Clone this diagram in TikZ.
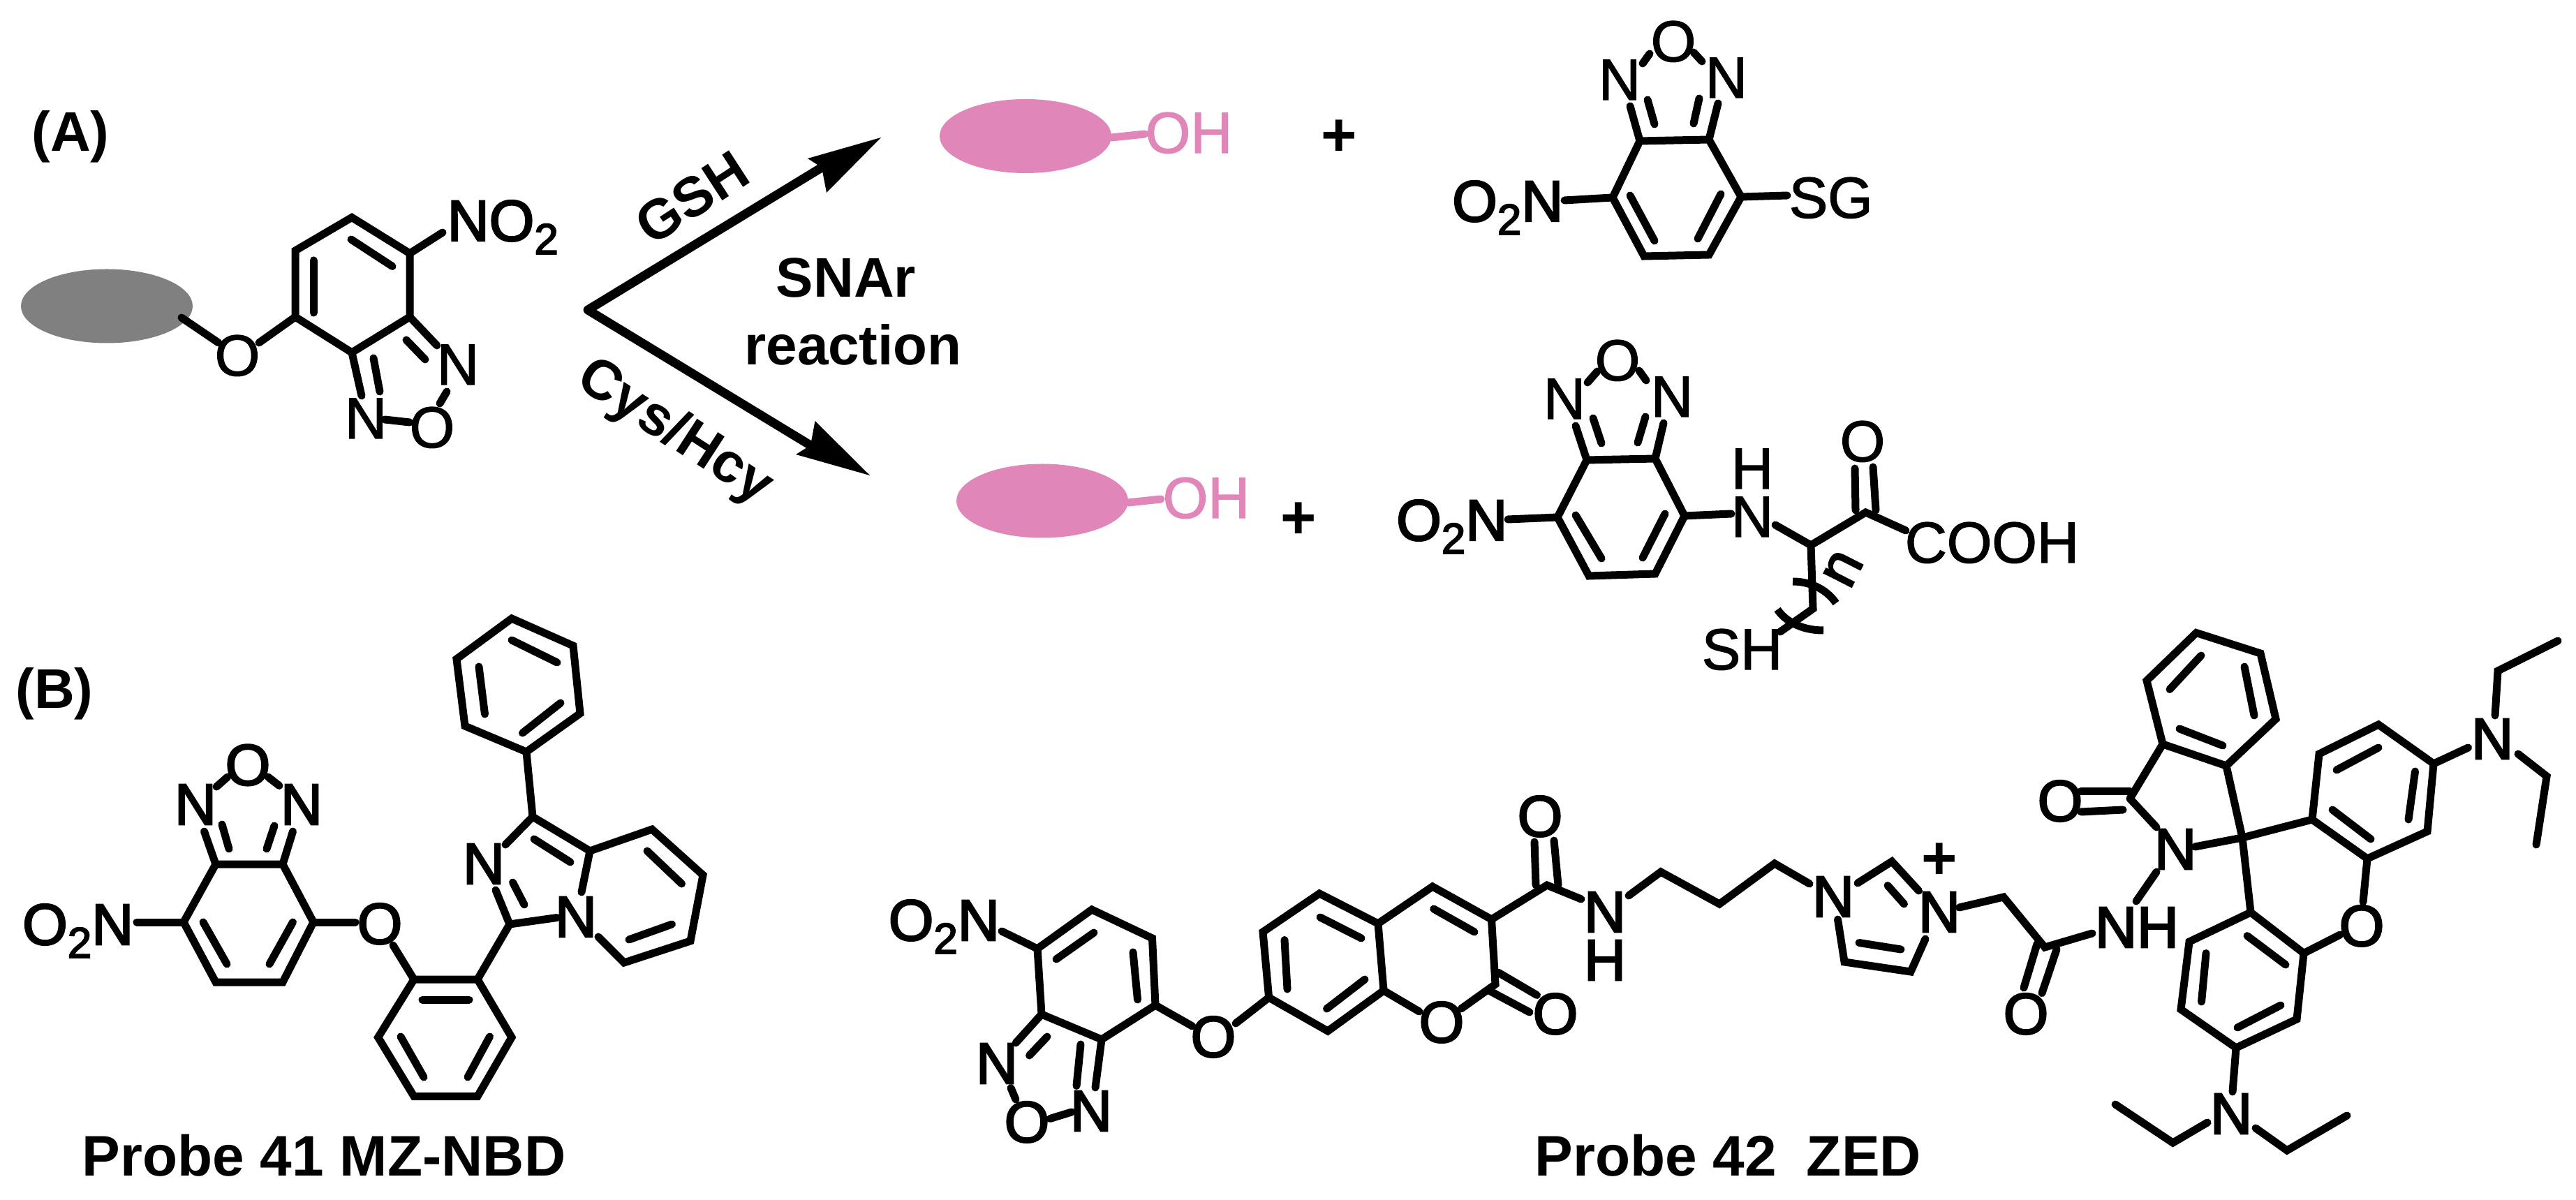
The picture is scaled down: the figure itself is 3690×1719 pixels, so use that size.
\documentclass[tikz,border=0pt]{standalone}
\usepackage{fontspec}
\setmainfont{Liberation Sans}
\newfontfamily\atomfont[FakeBold=1.6]{Liberation Sans}
\newfontfamily\heavyfont[FakeBold=3]{Liberation Sans}
\newfontfamily\boldfont{Liberation Sans Bold}
\definecolor{probepink}{HTML}{E186B9}
\definecolor{probegray}{HTML}{808080}
\newcommand{\subtwo}{\raisebox{-4.75pt}{\fontsize{15.5pt}{15.5pt}\selectfont 2}}
\tikzset{
  bond/.style={line width=2.75pt,line cap=round,line join=miter},
  pinkbond/.style={bond,color=probepink},
  shaft/.style={line width=3.2pt,line join=round},
  atomtext/.style={inner sep=0pt,anchor=base,font=\atomfont\fontsize{20.75pt}{20.75pt}\selectfont},
  heavytext/.style={atomtext,font=\heavyfont\fontsize{20.75pt}{20.75pt}\selectfont},
  atomleft/.style={atomtext,anchor=base west},
  pinktext/.style={atomtext,text=probepink},
  labeltext/.style={inner sep=0pt,anchor=base,font=\boldfont\fontsize{20pt}{20pt}\selectfont},
  plustext/.style={labeltext,anchor=center,font=\boldfont\fontsize{22pt}{22pt}\selectfont},
  titletext/.style={labeltext,font=\boldfont\fontsize{20.5pt}{20.5pt}\selectfont}
}
\begin{document}
\begin{tikzpicture}[x=0.25pt,y=-0.25pt]
\useasboundingbox (0,0) rectangle (3690,1719);
% ---------- panel labels
\node[labeltext] (labA) at (101,217) {(A)};
\node[labeltext] (labB) at (78,1015) {(B)};
% ---------- substrate
\fill[probegray] (153,438.5) ellipse [x radius=123,y radius=53];
\draw[bond] (504,311.5) -- (587,363) -- (587,454) -- (504,505) -- (423,454) -- (423,359) -- cycle;
\draw[bond] (503,343) -- (562,381.5);
\draw[bond] (449,373) -- (449,448);
\draw[bond] (587,363) -- (634,333);
\draw[bond] (587,454) -- (626,495);
\draw[bond] (582,487) -- (609,515);
\draw[bond] (504,505) -- (518,567);
\draw[bond] (535,513) -- (544,561);
\draw[bond] (551,601) -- (587,605);
\draw[bond] (640,561) -- (630,578);
\draw[bond] (423,454) -- (371,491);
\draw[bond] (313,491) -- (260,455);
\node[atomtext] (sO) at (340,538) {O};
\node[atomtext] (sNa) at (656,551) {N};
\node[atomtext] (sNb) at (524,628) {N};
\node[atomtext] (sOb) at (619,641) {O};
\node[heavytext,anchor=base west] (sNO) at (640,345) {NO\subtwo};
% ---------- reaction arrows
\coordinate (root) at (842,444);
\coordinate (upnotch) at (1177,240);
\coordinate (downnotch) at (1161,638);
\draw[shaft] (upnotch) -- (root) -- (downnotch);
\fill (1262,197) -- (1157,227) -- (upnotch) -- (1184,276) -- cycle;
\fill (1246,681) -- (1167.5,603) -- (downnotch) -- (1140,651) -- cycle;
\node[labeltext,anchor=center,rotate=33] (gsh) at (991,283) {GSH};
\node[labeltext,anchor=center,rotate=-33] (cys) at (966,620) {Cys/Hcy};
\node[labeltext] (snar) at (1212,426) {SNAr};
\node[labeltext] (reac) at (1222,523) {reaction};
% ---------- pink product 1
\fill[probepink] (1469,195) ellipse [x radius=123,y radius=53];
\draw[pinkbond] (1592,197) -- (1640,192);
\node[pinktext,anchor=base west] (oh1) at (1640,219) {OH};
\node[plustext] (plus1) at (1918,198) {+};
% ---------- SG product
\draw[bond] (2349,202) -- (2448,200) -- (2494,282) -- (2448,365) -- (2355,367) -- (2310,283) -- cycle;
\draw[bond] (2335,280) -- (2370,345);
\draw[bond] (2465,278) -- (2432,342);
\draw[bond] (2349,202) -- (2335,152);
\draw[bond] (2370,178) -- (2360,143);
\draw[bond] (2448,200) -- (2461,148);
\draw[bond] (2426,177) -- (2434,141);
\draw[bond] (2353,91) -- (2363,77);
\draw[bond] (2438,88) -- (2426,75);
\draw[bond] (2241,287) -- (2310,283);
\draw[bond] (2494,282) -- (2560,280);
\node[atomtext] (gNa) at (2320,143) {N};
\node[atomtext] (gNb) at (2473,140) {N};
\node[atomtext] (gO) at (2397,88) {O};
\node[heavytext,anchor=base east] (gNO) at (2240,317) {O\subtwo N};
\node[atomleft] (gSG) at (2562,312) {SG};
% ---------- pink product 2
\fill[probepink] (1493,717.5) ellipse [x radius=123,y radius=53];
\draw[pinkbond] (1616,720) -- (1663,715);
\node[pinktext,anchor=base west] (oh2) at (1665,742) {OH};
\node[plustext] (plus2) at (1860,746) {+};
% ---------- Cys product
\draw[bond] (2273,659) -- (2371,657) -- (2413,739) -- (2371,822) -- (2276,825) -- (2231,741) -- cycle;
\draw[bond] (2257,738) -- (2294,800);
\draw[bond] (2385,736) -- (2353,799);
\draw[bond] (2273,659) -- (2257,610);
\draw[bond] (2294,635) -- (2282,599);
\draw[bond] (2371,657) -- (2383,606);
\draw[bond] (2346,634) -- (2357,597);
\draw[bond] (2274,548) -- (2288,532);
\draw[bond] (2358,545) -- (2348,531);
\draw[bond] (2160,744) -- (2231,741);
\draw[bond] (2413,739) -- (2480,736);
\draw[bond] (2543,752) -- (2594,781) -- (2672.5,734) -- (2730,760);
\draw[bond] (2658,731) -- (2657,671);
\draw[bond] (2687,731) -- (2683,669);
\draw[bond] (2594,781) -- (2597,872) -- (2550,905);
\draw[bond,line cap=butt] (2568,833) .. controls (2590,833) and (2615,842) .. (2630,864);
\draw[bond,line cap=butt] (2546,873) .. controls (2556,888) and (2578,903) .. (2612,903);
\node[atomtext] (cNa) at (2241,600) {N};
\node[atomtext] (cNb) at (2395,597) {N};
\node[atomtext] (cO) at (2317,545) {O};
\node[heavytext,anchor=base east] (cNO) at (2160,774) {O\subtwo N};
\node[atomtext] (cH) at (2510,700) {H};
\node[atomtext] (cN) at (2510,769) {N};
\node[atomtext] (cOb) at (2668,661) {O};
\node[atomleft] (cCOOH) at (2728,806) {COOH};
\node[heavytext,anchor=center,rotate=63] (cn) at (2640,815) {n};
\node[atomleft] (cSH) at (2437,959) {SH};
% ---------- Probe 41
\draw[bond] (309,1238) -- (405,1238) -- (449,1321) -- (405,1407) -- (309,1407) -- (263,1321) -- cycle;
\draw[bond] (291,1321) -- (325,1381);
\draw[bond] (419.5,1321) -- (386,1381);
\draw[bond] (309,1238) -- (292.5,1191);
\draw[bond] (328,1216) -- (318,1181);
\draw[bond] (405,1238) -- (419.5,1191);
\draw[bond] (382,1216) -- (393,1183);
\draw[bond] (326,1113) -- (310,1127);
\draw[bond] (384,1113) -- (400,1125.5);
\draw[bond] (196,1321) -- (263,1321);
\draw[bond] (449,1321) -- (509,1321);
\draw[bond] (563,1354) -- (593,1403);
\draw[bond] (593,1403) -- (684,1403) -- (733,1486) -- (684,1570.6) -- (593,1570.6) -- (541.6,1486) -- cycle;
\draw[bond] (605,1432) -- (672,1432);
\draw[bond] (574,1485) -- (607,1543);
\draw[bond] (701.5,1485) -- (670,1543);
\draw[bond] (684,1403) -- (730,1324);
\draw[bond] (730,1324) -- (710,1275);
\draw[bond] (751,1296) -- (734.5,1264);
\draw[bond] (724,1210) -- (763,1170) -- (845,1219) -- (833,1278);
\draw[bond] (765,1202) -- (817,1235);
\draw[bond] (730,1324) -- (798,1314.5);
\draw[bond] (845,1219) -- (934,1188) -- (1007,1253.5) -- (989,1348) -- (894,1379) -- (857,1342);
\draw[bond] (927,1219) -- (976.5,1266);
\draw[bond] (901,1346) -- (962.5,1324);
\draw[bond] (763,1170) -- (754,1077);
\draw[bond] (754,1077) -- (831,1022) -- (821,925) -- (733,886) -- (654,944) -- (666,1040) -- cycle;
\draw[bond] (733,917) -- (798,949);
\draw[bond] (686,955) -- (694.5,1023);
\draw[bond] (748.5,1050) -- (803,1007);
\node[heavytext] (aNa) at (280,1181) {N};
\node[heavytext] (aNb) at (432,1181) {N};
\node[heavytext] (aO) at (355,1124.5) {O};
\node[heavytext,anchor=base east] (aNO) at (192,1353) {O\subtwo N};
\node[heavytext] (aOb) at (544,1352) {O};
\node[heavytext] (aNc) at (693,1266) {N};
\node[heavytext] (aNd) at (825,1342) {N};
\node[titletext,anchor=base west] (t41) at (117,1684) {Probe 41 MZ-NBD};
% ---------- Probe 42: NBD + coumarin
\draw[bond] (1564,1303) -- (1650.5,1344) -- (1655,1440) -- (1578,1489) -- (1492,1453) -- (1486,1359) -- cycle;
\draw[bond] (1567,1336) -- (1513,1374);
\draw[bond] (1623,1364) -- (1629.5,1432);
\draw[bond] (1486,1359) -- (1435,1334);
\draw[bond] (1492,1453) -- (1455,1494);
\draw[bond] (1500,1485) -- (1474.5,1512);
\draw[bond] (1578,1489) -- (1569,1558);
\draw[bond] (1548,1496) -- (1542,1555.5);
\draw[bond] (1448,1558.5) -- (1455,1575);
\draw[bond] (1504,1602.5) -- (1535,1593);
\draw[bond] (1655,1440) -- (1708,1470);
\draw[bond] (1770,1466) -- (1817.6,1429);
\draw[bond] (1817.6,1429) -- (1809,1335) -- (1890,1280) -- (1974,1323) -- (1982,1419) -- (1902,1477) -- cycle;
\draw[bond] (1840,1346.5) -- (1844,1417);
\draw[bond] (1891,1314) -- (1950,1344);
\draw[bond] (1955,1403) -- (1900.5,1445);
\draw[bond] (1974,1323) -- (2052,1270) -- (2136.5,1317) -- (2142,1410) -- (2093,1445);
\draw[bond] (1982,1419) -- (2033,1449);
\draw[bond] (2053.6,1302) -- (2112,1335);
\draw[bond] (2146,1393) -- (2201.5,1425.5);
\draw[bond] (2133,1419) -- (2191,1450);
\draw[bond] (2136.5,1317) -- (2216,1268) -- (2265,1288);
\draw[bond] (2200,1268) -- (2198,1206);
\draw[bond] (2232,1268) -- (2226,1204);
\draw[bond] (2333,1283) -- (2379,1249) -- (2463,1295) -- (2542,1237) -- (2592,1266);
\node[heavytext,anchor=base west] (zNO) at (1272,1347) {O\subtwo N};
\node[heavytext] (zNa) at (1428,1552) {N};
\node[heavytext] (zNb) at (1563,1620) {N};
\node[heavytext] (zOa) at (1471,1636) {O};
\node[heavytext] (zOb) at (1738,1514) {O};
\node[heavytext] (zOc) at (2065,1493) {O};
\node[heavytext] (zOd) at (2228,1481) {O};
\node[heavytext] (zOe) at (2206,1198) {O};
\node[heavytext] (zNc) at (2299,1335) {N};
\node[heavytext] (zHc) at (2299,1404) {H};
% ---------- Probe 42: imidazolium and linker
\draw[bond] (2661,1265) -- (2710,1234) -- (2748.5,1276);
\draw[bond] (2704,1268.5) -- (2727.5,1295);
\draw[bond] (2632.5,1317) -- (2642,1378) -- (2737,1392) -- (2758,1345);
\draw[bond] (2663,1350.5) -- (2723,1360);
\draw[bond] (2806.5,1300) -- (2870,1285) -- (2929,1357) -- (2997,1337);
\draw[bond] (2918,1352) -- (2899,1415);
\draw[bond] (2946,1360) -- (2925,1422.6);
\draw[bond] (3060,1291) -- (3089,1249);
\node[heavytext] (zNd) at (2626,1313) {N};
\node[heavytext] (zNe) at (2778,1335) {N};
\node[plustext] (zplus) at (2778,1234) {+};
\node[heavytext] (zOf) at (2902,1481) {O};
\node[heavytext] (zNH) at (3061,1357) {NH};
% ---------- Probe 42: rhodamine
\draw[bond] (3089,1185) -- (3051,1144);
\draw[bond] (3051,1133) -- (2981,1133);
\draw[bond] (3041,1160) -- (2981,1163);
\draw[bond] (3051,1144) -- (3098,1066);
\draw[bond] (3098,1066) -- (3075,975) -- (3146,906.5) -- (3238,936) -- (3260,1030) -- (3189,1097) -- cycle;
\draw[bond] (3108,987.5) -- (3153,939);
\draw[bond] (3215,955) -- (3229,1025);
\draw[bond] (3122,1044) -- (3184,1068);
\draw[bond] (3189,1097) -- (3212,1200) -- (3224,1307);
\draw[bond] (3144,1213) -- (3212,1200) -- (3312,1174);
\draw[bond] (3312,1174) -- (3322,1080) -- (3407,1038) -- (3486,1094) -- (3477,1191) -- (3391,1230) -- cycle;
\draw[bond] (3341,1160) -- (3396,1202);
\draw[bond] (3347,1103) -- (3407,1071);
\draw[bond] (3459.5,1105) -- (3450,1174);
\draw[bond] (3391,1230) -- (3385,1292);
\draw[bond] (3352,1339) -- (3300,1365.5);
\draw[bond] (3224,1307) -- (3300,1365.5) -- (3290,1460) -- (3203,1501) -- (3124,1446) -- (3136,1349) -- cycle;
\draw[bond] (3219,1340.6) -- (3274,1382);
\draw[bond] (3160,1365.5) -- (3153.5,1435);
\draw[bond] (3205,1472) -- (3267,1440);
\draw[bond] (3203,1501) -- (3198,1564);
\draw[bond] (3162,1608) -- (3112.5,1637) -- (3030,1582);
\draw[bond] (3231,1616) -- (3276,1648) -- (3362,1598);
\draw[bond] (3486,1094) -- (3535.5,1071);
\draw[bond] (3574,1025) -- (3578,961) -- (3664,918);
\draw[bond] (3607,1080) -- (3648,1112) -- (3633,1210);
\node[heavytext] (zNf) at (3116,1245) {N};
\node[heavytext] (zOg) at (2951,1176) {O};
\node[heavytext] (zOh) at (3383,1355) {O};
\node[heavytext] (zNg) at (3196,1624) {N};
\node[heavytext] (zNh) at (3570,1087) {N};
\node[titletext,anchor=base west] (t42) at (2198,1684) {Probe 42\hspace{5pt} ZED};
\end{tikzpicture}
\end{document}
